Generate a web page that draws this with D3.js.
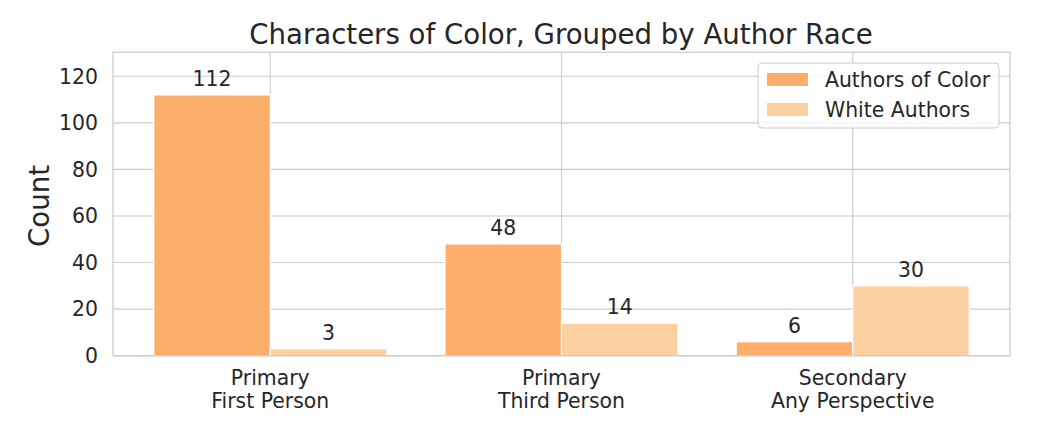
<!DOCTYPE html>
<html><head><meta charset="utf-8">
<script src="https://cdn.jsdelivr.net/npm/d3@7"></script>
<style>body{margin:0;background:#fff}text{font-family:"DejaVu Sans",sans-serif;fill:#262626}</style>
</head><body>
<svg id="c" width="1048" height="424"></svg>
<script>
const categories = [["Primary","First Person"],["Primary","Third Person"],["Secondary","Any Perspective"]];
const seriesNames = ["Authors of Color","White Authors"];
const authorsOfColor = [112,48,6];
const whiteAuthors = [3,14,30];
const yTicks = [0,20,40,60,80,100,120];
const colors = ["#fdae6b","#fdd0a2"];
const title = "Characters of Color, Grouped by Author Race";
const yLabel = "Count";

const svg = d3.select("#c");
const L=113, R=1010, T=52.3, B=355.7;
const x = d3.scaleLinear().domain([-0.54,2.54]).range([L,R]);
const y = d3.scaleLinear().domain([0,130.3]).range([B,T]);
const barW = 0.4;
const fs = 20.4;

// grid
svg.append("g").selectAll("line").data(yTicks).join("line")
  .attr("x1",L).attr("x2",R).attr("y1",d=>y(d)).attr("y2",d=>y(d))
  .attr("stroke","#cccccc").attr("stroke-width",1.1);
svg.append("g").selectAll("line").data(categories).join("line")
  .attr("x1",(d,i)=>x(i)).attr("x2",(d,i)=>x(i)).attr("y1",T).attr("y2",B)
  .attr("stroke","#cccccc").attr("stroke-width",1.1);

const series=[authorsOfColor,whiteAuthors];
series.forEach((vals,s)=>{
  const g=svg.append("g");
  g.selectAll("rect").data(vals).join("rect")
    .attr("x",(d,i)=>x(i+(s-1)*barW)).attr("width",x(barW)-x(0))
    .attr("y",d=>y(d)).attr("height",d=>y(0)-y(d))
    .attr("fill",colors[s]).attr("stroke","#fff").attr("stroke-width",1.2);
  g.selectAll("text").data(vals).join("text")
    .attr("x",(d,i)=>x(i+(s-0.5)*barW)).attr("y",d=>y(d)-9)
    .attr("text-anchor","middle").attr("font-size",fs).text(d=>d);
});

// frame
svg.append("rect").attr("x",L).attr("y",T).attr("width",R-L).attr("height",B-T)
  .attr("fill","none").attr("stroke","#cccccc").attr("stroke-width",1.3);

// y ticks
svg.append("g").selectAll("text").data(yTicks).join("text")
  .attr("x",98).attr("y",d=>y(d)).attr("dy","0.36em").attr("text-anchor","end")
  .attr("font-size",fs).text(d=>d);
// x ticks
categories.forEach((c,i)=>{
  c.forEach((line,j)=>{
    svg.append("text").attr("x",x(i)).attr("y",385+j*23).attr("text-anchor","middle")
      .attr("font-size",fs).text(line);
  });
});
// y label
svg.append("text").attr("transform","translate(49,206) rotate(-90)").attr("text-anchor","middle")
  .attr("font-size",27.6).text(yLabel);
// title
svg.append("text").attr("x",(L+R)/2 - 0.5).attr("y",44).attr("text-anchor","middle")
  .attr("font-size",27.6).text(title);

// legend
const lg=svg.append("g");
lg.append("rect").attr("x",758).attr("y",63).attr("width",241).attr("height",65).attr("rx",4)
  .attr("fill","#fff").attr("fill-opacity",0.8).attr("stroke","#cccccc").attr("stroke-width",1);
seriesNames.forEach((n,i)=>{
  lg.append("rect").attr("x",767).attr("y",73+i*30).attr("width",41).attr("height",13).attr("fill",colors[i]);
  lg.append("text").attr("x",825).attr("y",79.5+i*30).attr("dy","0.36em").attr("font-size",fs).text(n);
});
</script>
</body></html>
